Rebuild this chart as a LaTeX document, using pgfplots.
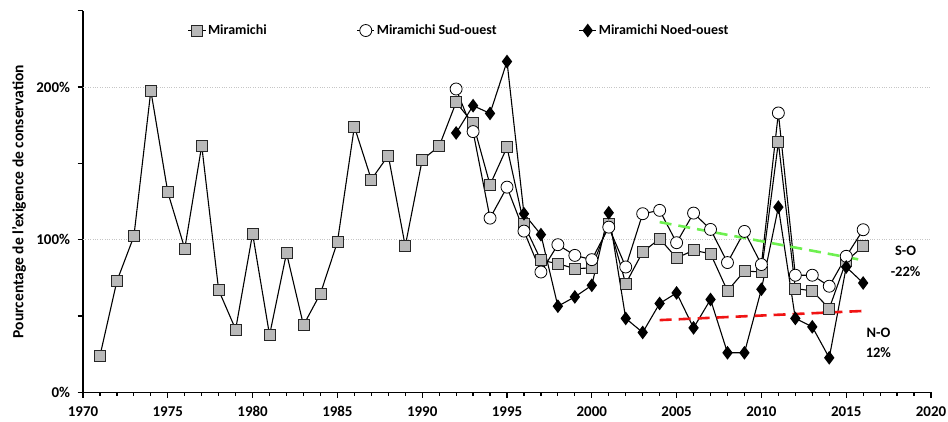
\documentclass[border=0pt]{standalone}
\usepackage{pgfplots}
\pgfplotsset{compat=1.18}
\usepackage{fontspec}
\setmainfont{Carlito}
\begin{document}
\begin{tikzpicture}[font=\bfseries]
\begin{axis}[
  width=848bp, height=381.6bp, scale only axis,
  xmin=1970, xmax=2020, ymin=0, ymax=250,
  axis lines=left,
  axis line style={line width=1.6bp, -},
  xtick={1970,1975,...,2020},
  minor x tick num=4,
  ytick={0,50,...,250},
  yticklabels={0\%,,100\%,,200\%,},
  tick align=outside,
  major tick length=5.5bp, minor tick length=3.5bp,
  every tick/.style={line width=1.2bp, black},
  xticklabel style={/pgf/number format/set thousands separator={}, /pgf/number format/assume math mode=true, font=\bfseries\fontsize{15}{15}\selectfont, yshift=-5bp},
  yticklabel style={/pgf/number format/assume math mode=true, font=\bfseries\fontsize{15}{15}\selectfont, xshift=-4bp},
  extra y ticks={100,200},
  extra y tick labels={},
  extra y tick style={grid=major, major tick length=0pt, major grid style={dotted, line width=0.8bp, gray!45}},
  ylabel={Pourcentage de l'exigence de conservation},
  ylabel style={font=\bfseries\fontsize{15.6}{15.6}\selectfont, yshift=-2bp},
  legend columns=3,
  legend style={at={(0.12,1)}, anchor=north west, yshift=-10bp, draw=none, fill=none,
    font=\bfseries\fontsize{14}{14}\selectfont,
    /tikz/column 2/.style={column sep=88bp},
    /tikz/column 4/.style={column sep=80bp}},
  clip=false,
]
\addplot[black, line width=1.1bp, mark=square*, mark size=5.5bp, mark options={fill=gray!55, draw=gray!30!black, line width=0.8bp}] coordinates {
(1971,23.9)(1972,72.9)(1973,102.2)(1974,197.6)(1975,131.1)(1976,94.1)(1977,161.6)(1978,66.9)(1979,41.2)(1980,103.9)
(1981,37.5)(1982,91.2)(1983,44)(1984,64.7)(1985,98.4)(1986,174)(1987,139.4)(1988,155.1)(1989,95.8)(1990,152.3)
(1991,161.2)(1992,190)(1993,176.2)(1994,135.9)(1995,160.5)(1996,110)(1997,86.5)(1998,84.3)(1999,81)(2000,81.5)
(2001,110.5)(2002,71.2)(2003,91.9)(2004,100.6)(2005,88)(2006,93)(2007,90.8)(2008,66.4)(2009,79.5)(2010,78.8)
(2011,163.8)(2012,68)(2013,66.4)(2014,54.9)(2015,86)(2016,95.6)
};
\addlegendentry{Miramichi}
\addplot[black, line width=1.1bp, mark=*, mark size=6bp, mark options={fill=white, draw=black, line width=0.8bp}] coordinates {
(1992,198.7)(1993,170.8)(1994,114.1)(1995,134.4)(1996,105.6)(1997,78.8)(1998,96.7)(1999,89.7)(2000,86.9)
(2001,108.2)(2002,82.1)(2003,117)(2004,119.2)(2005,98)(2006,117.4)(2007,106.7)(2008,85)(2009,105.4)(2010,83.7)
(2011,183)(2012,76.7)(2013,76.7)(2014,69.5)(2015,89.1)(2016,106.5)
};
\addlegendentry{Miramichi Sud-ouest}
\addplot[black, line width=1.1bp, mark=diamond*, mark size=6bp, mark options={fill=black, draw=black}] coordinates {
(1992,169.9)(1993,187.8)(1994,182.7)(1995,216.7)(1996,117)(1997,103.3)(1998,56.4)(1999,62.5)(2000,70.1)
(2001,117.6)(2002,48.4)(2003,39.2)(2004,58.2)(2005,65.1)(2006,42.2)(2007,60.8)(2008,25.9)(2009,25.9)(2010,67.5)
(2011,121.3)(2012,48.4)(2013,42.9)(2014,22.6)(2015,82.1)(2016,71.6)
};
\addlegendentry{Miramichi Noed-ouest}
\addplot[forget plot, color={rgb,255:red,110;green,240;blue,80}, line width=2.6bp, dash pattern=on 12bp off 7bp] coordinates {(2004,111.5)(2016,86.5)};
\addplot[forget plot, color={rgb,255:red,240;green,20;blue,20}, line width=2.6bp, dash pattern=on 12bp off 7bp] coordinates {(2004,47.3)(2016,53.3)};
\node[font=\bfseries\fontsize{14.5}{14.5}\selectfont] at (axis cs:2018.5,92.5) {S-O};
\node[font=\bfseries\fontsize{14.5}{14.5}\selectfont] at (axis cs:2018.5,78.8) {-22\%};
\node[font=\bfseries\fontsize{14.5}{14.5}\selectfont] at (axis cs:2016.9,38.7) {N-O};
\node[font=\bfseries\fontsize{14.5}{14.5}\selectfont] at (axis cs:2016.9,25.9) {12\%};
\end{axis}
\pgfresetboundingbox
\path[use as bounding box] ([shift={(-83bp,-29.5bp)}]current axis.south west) rectangle ([shift={(17bp,10.7bp)}]current axis.north east);
\end{tikzpicture}
\end{document}
